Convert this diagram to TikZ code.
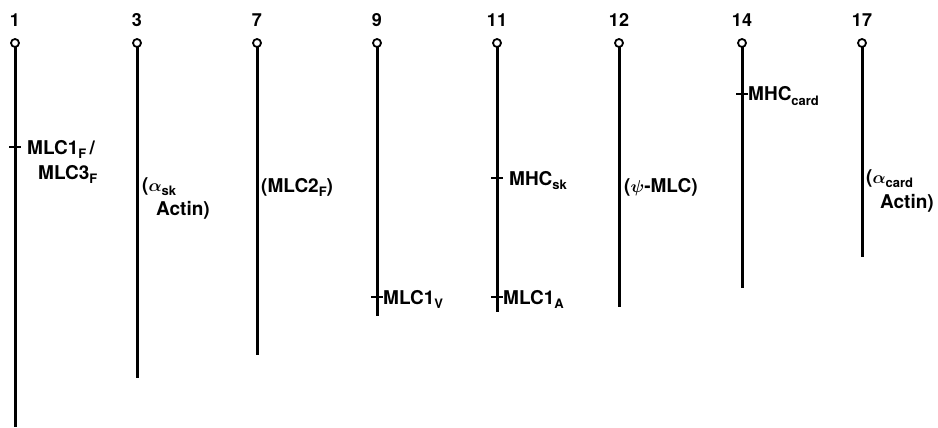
\documentclass[tikz,border=0pt]{standalone}
\usepackage{fontspec}
\usepackage{bm}
\setmainfont{TeX Gyre Heros}
\newcommand{\lsub}[1]{\raisebox{-0.22em}{\fontsize{13}{13}\selectfont #1}}

\begin{document}
\begin{tikzpicture}[x=1pt,y=-1pt,
        chrom/.style={line width=3pt},
        cen/.style={circle,draw,fill=white,line width=1.8pt,inner sep=0pt,minimum size=8pt},
        num/.style={font=\fontsize{18}{18}\selectfont\bfseries},
        gene/.style={anchor=base west,inner sep=0pt,font=\fontsize{19}{22}\selectfont\bfseries},
        tick/.style={line width=1.6pt}]
        \useasboundingbox (0,0) rectangle (938,428);

        % chromosomes: number/x/lower end
        \foreach \chr/\x/\yb in {1/15/427,3/137/378,7/257/355,9/377/316,11/497/312,12/619/307,14/742/288,17/862/257}{
            \node[num] (n\chr) at (\x,20) {\chr};
            \coordinate (b\chr) at (\x,\yb);
            \draw[chrom] (\x,43) -- (b\chr);
            \node[cen] (c\chr) at (\x,43) {};
        }

        % mapped loci
        \coordinate (t1) at (15,147);
        \coordinate (t9) at (377,297);
        \coordinate (t11a) at (497,178);
        \coordinate (t11b) at (497,297);
        \coordinate (t14) at (742,94);
        \foreach \t in {t1,t9,t11a,t11b,t14}
            \draw[tick] ([xshift=-6pt]\t) -- ([xshift=6pt]\t);

        \node[gene] (g1a) at (27,154) {MLC1\lsub{F}\,/};
        \node[gene] (g1b) at (38,179) {MLC3\lsub{F}};
        \node[gene] (g3a) at (142,191) {($\bm{\alpha}$\lsub{sk}};
        \node[gene] (g3b) at (156,215) {Actin)};
        \node[gene] (g7) at (261,192) {(MLC2\lsub{F})};
        \node[gene] (g9) at (383,304) {MLC1\lsub{V}};
        \node[gene] (g11a) at (509,185) {MHC\lsub{sk}};
        \node[gene] (g11b) at (503,304) {MLC1\lsub{A}};
        \node[gene] (g12) at (624,192) {($\bm{\psi}$-MLC)};
        \node[gene] (g14) at (748,101) {MHC\lsub{card}};
        \node[gene] (g17a) at (866,183) {($\bm{\alpha}$\lsub{card}};
        \node[gene] (g17b) at (880,208) {Actin)};
    \end{tikzpicture}
\end{document}
